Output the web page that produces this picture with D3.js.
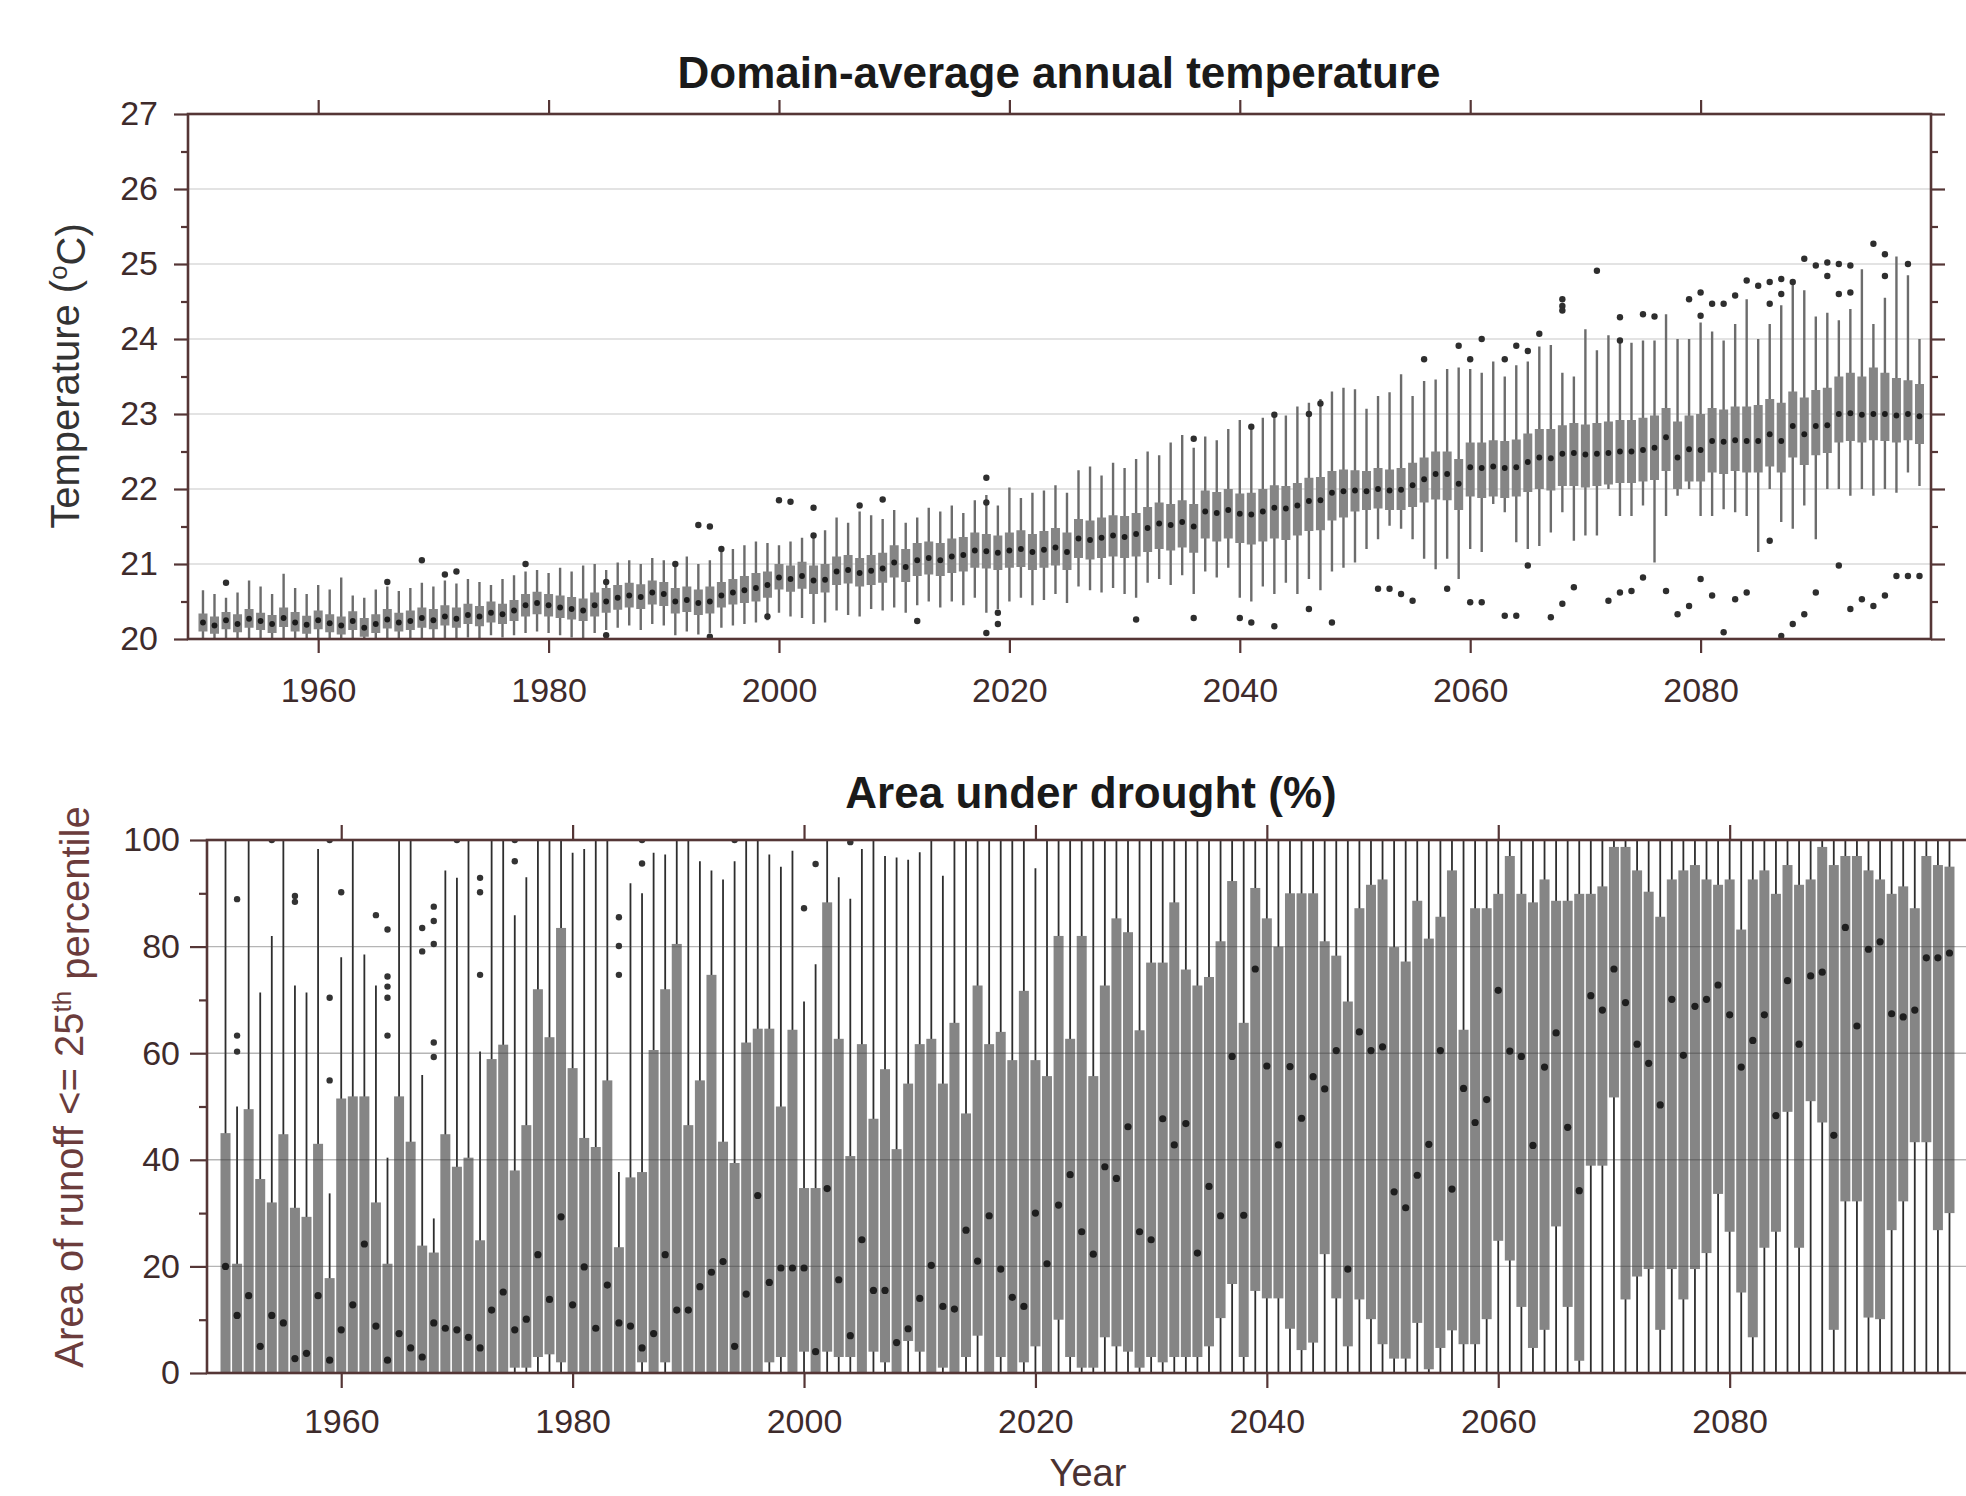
<!DOCTYPE html>
<html>
<head>
<meta charset="utf-8">
<script src="https://cdn.jsdelivr.net/npm/d3@7"></script>
<style>
  html, body { margin: 0; padding: 0; background: #ffffff; }
  svg { display: block; font-family: "Liberation Sans", Arial, Helvetica, sans-serif; }
</style>
</head>
<body>
<svg id="chart" width="1966" height="1496"></svg>
<script>
// ---------- categories and tick labels ----------
const years = d3.range(1950, 2100);               // one box per simulated year
const yearTicks = [1960, 1980, 2000, 2020, 2040, 2060, 2080];
const tempTicks = [20, 21, 22, 23, 24, 25, 26, 27];
const tempMinorTicks = [20.5, 21.5, 22.5, 23.5, 24.5, 25.5, 26.5];
const droughtTicks = [0, 20, 40, 60, 80, 100];
const droughtMinorTicks = [10, 30, 50, 70, 90];

// ---------- domain-average annual temperature (°C), ensemble spread per year ----------
const tempLow = [
  19.85,19.90,19.95,19.90,19.95,19.88,19.90,19.98,19.92,19.90,
  19.95,19.90,19.88,19.95,19.85,19.90,19.96,19.92,19.94,19.98,
  19.95,20.00,19.98,20.02,19.98,20.05,20.02,20.05,20.08,20.10,
  20.08,20.05,20.02,20.00,20.08,20.12,20.15,20.18,20.12,20.20,
  20.18,20.05,20.10,20.06,20.08,20.15,20.18,20.20,20.22,20.25,
  20.35,20.30,20.28,20.20,20.22,20.38,20.32,20.30,20.40,20.38,
  20.42,20.35,20.45,20.50,20.42,20.50,20.45,20.55,20.35,20.40,
  20.50,20.55,20.45,20.52,20.60,20.48,20.70,20.65,20.62,20.68,
  20.60,20.55,20.75,20.80,20.72,20.85,20.60,20.90,20.82,20.95,
  20.55,20.50,20.70,20.60,20.75,20.60,20.80,20.65,20.90,20.95,
  21.02,21.20,21.33,21.51,21.47,21.33,21.07,20.93,21.07,20.80,
  21.20,21.16,21.80,21.69,21.29,21.20,21.24,21.42,21.69,21.31,
  21.38,21.38,22.00,21.64,21.64,21.78,21.02,21.64,21.91,22.00,
  21.64,21.64,21.73,21.69,21.64,21.16,22.00,21.56,21.47,21.78,
  21.33,22.00,22.00,21.91,22.00,21.91,22.00,21.95,22.22,22.04
];
const tempQ1 = [
  20.10,20.07,20.13,20.09,20.15,20.12,20.08,20.16,20.10,20.07,
  20.13,20.09,20.06,20.12,20.03,20.08,20.14,20.10,20.12,20.15,
  20.13,20.18,20.15,20.20,20.17,20.22,20.20,20.24,20.30,20.33,
  20.30,20.28,20.26,20.24,20.30,20.35,20.39,20.42,20.40,20.46,
  20.44,20.34,20.36,20.32,20.34,20.42,20.46,20.48,20.50,20.55,
  20.66,20.63,20.67,20.60,20.62,20.72,20.74,20.70,20.72,20.75,
  20.82,20.76,20.84,20.86,20.84,20.88,20.90,20.95,20.94,20.92,
  20.95,20.96,20.92,20.95,20.98,20.92,21.08,21.06,21.08,21.10,
  21.08,21.10,21.16,21.20,21.18,21.22,21.15,21.34,21.30,21.34,
  21.28,21.26,21.30,21.34,21.32,21.38,21.44,21.45,21.58,21.62,
  21.70,21.72,21.74,21.72,21.72,21.76,21.82,21.86,21.85,21.72,
  21.90,21.88,21.90,21.88,21.90,21.96,22.00,21.98,22.04,22.04,
  22.02,22.04,22.06,22.08,22.08,22.10,22.12,22.24,22.00,22.10,
  22.10,22.22,22.20,22.24,22.22,22.22,22.30,22.22,22.42,22.32,
  22.45,22.48,22.62,22.64,22.62,22.65,22.64,22.62,22.65,22.60
];
const tempMedian = [
  20.22,20.18,20.25,20.20,20.27,20.24,20.20,20.28,20.22,20.19,
  20.25,20.21,20.18,20.24,20.15,20.20,20.26,20.22,20.24,20.28,
  20.25,20.30,20.27,20.32,20.30,20.35,20.33,20.38,20.45,20.48,
  20.45,20.42,20.40,20.38,20.45,20.50,20.55,20.58,20.56,20.62,
  20.60,20.50,20.52,20.48,20.50,20.58,20.62,20.65,20.68,20.72,
  20.82,20.80,20.84,20.78,20.79,20.90,20.92,20.88,20.91,20.94,
  21.02,20.96,21.05,21.08,21.05,21.10,21.12,21.18,21.17,21.15,
  21.18,21.20,21.16,21.19,21.22,21.16,21.34,21.32,21.35,21.38,
  21.36,21.40,21.48,21.54,21.52,21.56,21.50,21.70,21.68,21.72,
  21.67,21.66,21.70,21.75,21.74,21.78,21.84,21.85,21.95,21.97,
  21.98,21.97,22.00,21.98,21.99,22.05,22.13,22.20,22.20,22.07,
  22.29,22.28,22.30,22.28,22.29,22.36,22.42,22.41,22.47,22.48,
  22.46,22.47,22.48,22.50,22.50,22.52,22.55,22.69,22.42,22.53,
  22.52,22.64,22.63,22.65,22.64,22.64,22.73,22.64,22.84,22.73,
  22.84,22.85,23.00,23.01,22.99,23.00,23.00,22.98,23.00,22.97
];
const tempQ3 = [
  20.34,20.30,20.36,20.33,20.40,20.35,20.32,20.42,20.36,20.31,
  20.38,20.33,20.30,20.37,20.28,20.33,20.40,20.35,20.38,20.42,
  20.40,20.45,20.42,20.47,20.44,20.50,20.47,20.52,20.60,20.63,
  20.60,20.58,20.56,20.54,20.62,20.68,20.72,20.75,20.73,20.78,
  20.76,20.68,20.70,20.66,20.70,20.76,20.80,20.84,20.88,20.90,
  21.00,20.98,21.03,20.98,21.00,21.10,21.12,21.08,21.12,21.15,
  21.25,21.20,21.28,21.30,21.28,21.34,21.36,21.42,21.40,21.38,
  21.42,21.45,21.40,21.44,21.48,21.42,21.60,21.58,21.62,21.65,
  21.64,21.68,21.76,21.82,21.80,21.85,21.80,21.98,21.96,22.00,
  21.94,21.95,22.00,22.05,22.04,22.08,22.15,22.16,22.24,22.26,
  22.25,22.24,22.28,22.26,22.28,22.35,22.42,22.50,22.50,22.40,
  22.62,22.62,22.65,22.64,22.66,22.74,22.80,22.80,22.85,22.88,
  22.86,22.88,22.90,22.92,22.92,22.95,22.98,23.08,22.90,22.98,
  23.00,23.08,23.06,23.10,23.10,23.12,23.20,23.15,23.30,23.22,
  23.32,23.35,23.50,23.55,23.50,23.62,23.55,23.48,23.45,23.40
];
const tempHigh = [
  20.65,20.60,20.55,20.62,20.78,20.70,20.60,20.87,20.68,20.60,
  20.72,20.66,20.82,20.58,20.55,20.66,20.70,20.64,20.68,20.75,
  20.70,20.78,20.74,20.80,20.76,20.72,20.80,20.85,20.90,20.92,
  20.88,20.95,20.90,20.98,21.00,20.92,21.02,21.05,21.00,21.08,
  21.05,20.98,21.10,21.00,21.05,21.18,21.20,21.25,21.30,21.28,
  21.25,21.30,21.35,21.40,21.45,21.62,21.55,21.70,21.65,21.60,
  21.72,21.55,21.62,21.75,21.70,21.78,21.68,21.85,21.92,21.78,
  22.02,21.88,21.95,21.98,22.05,21.95,22.25,22.30,22.18,22.35,
  22.28,22.40,22.50,22.45,22.62,22.72,22.55,22.70,22.65,22.80,
  22.92,22.85,22.95,23.00,22.98,23.10,23.15,23.20,23.30,23.35,
  23.33,23.07,23.24,23.29,23.53,23.24,23.44,23.46,23.60,23.62,
  23.60,23.55,23.70,23.50,23.65,23.70,23.90,23.92,23.55,23.50,
  24.13,23.85,24.05,24.00,23.95,23.98,23.98,24.33,24.00,24.00,
  24.22,24.10,23.98,24.20,24.53,24.00,24.20,24.45,24.73,24.65,
  24.30,24.35,24.25,24.40,24.93,24.20,24.55,25.10,24.85,24.00
];
// individual ensemble members beyond the whiskers: [year, °C]
const tempOutliers = [
  [1952,20.75],[1966,20.76],[1969,21.05],[1971,20.86],[1972,20.90],[1978,21.00],
  [1985,20.76],[1985,20.05],[1991,21.00],[1993,21.52],[1994,21.50],[1994,20.03],
  [1995,21.20],[1999,20.30],[2000,21.85],[2001,21.83],[2003,21.75],[2003,21.38],
  [2007,21.78],[2009,21.86],[2012,20.24],[2018,22.15],[2018,21.82],[2018,20.08],
  [2019,20.35],[2019,20.20],[2031,20.26],[2036,22.67],[2036,20.28],[2040,20.28],
  [2041,20.22],[2041,22.83],[2043,22.99],[2043,20.17],[2046,23.00],[2047,23.14],
  [2046,20.40],[2048,20.22],
  [2056,23.73],[2059,23.91],[2060,23.73],[2061,24.00],[2063,23.73],[2064,23.91],
  [2065,23.84],[2066,24.07],[2068,24.44],[2068,24.53],[2068,24.38],[2071,24.91],
  [2073,24.29],[2073,23.98],[2075,24.33],[2076,24.30],[2079,24.53],[2080,24.62],
  [2080,24.31],[2081,24.47],[2082,24.47],[2083,24.58],[2084,24.78],[2085,24.71],
  [2086,24.76],[2087,24.80],[2088,24.76],[2086,24.47],[2087,24.60],[2089,25.07],
  [2090,24.98],[2091,25.02],[2092,25.00],[2093,24.98],[2091,24.84],[2092,24.60],
  [2093,24.62],[2095,25.27],[2096,25.13],[2096,24.84],[2098,25.00],
  [2052,20.67],[2053,20.67],[2054,20.60],[2055,20.51],[2058,20.67],[2060,20.49],
  [2061,20.49],[2063,20.31],[2064,20.31],[2065,20.98],[2067,20.29],[2068,20.47],
  [2069,20.69],[2072,20.51],[2073,20.62],[2074,20.64],[2075,20.82],[2077,20.64],
  [2078,20.33],[2079,20.44],[2080,20.80],[2081,20.58],[2082,20.09],[2083,20.53],
  [2084,20.62],[2086,21.31],[2087,20.04],[2088,20.20],[2089,20.33],[2090,20.62],
  [2092,20.98],[2093,20.40],[2094,20.53],[2095,20.44],[2096,20.58],[2097,20.84],
  [2098,20.84],[2099,20.84]
];

// ---------- area under drought (% of area with runoff <= 25th percentile) ----------
const droughtLow = [
  0,0,0,0,0,0,0,0,0,0, 0,0,0,0,0,0,0,0,0,0, 0,0,0,0,0,0,0,0,0,0,
  0,0,0,0,0,0,0,0,0,0, 0,0,0,0,0,0,0,0,0,0, 0,0,0,0,0,0,0,0,0,0,
  0,0,0,0,0,0,0,0,0,0, 0,0,0,0,0,0,0,0,0,0, 0,0,0,0,0,0,0,0,0,0,
  0,0,0,0,0,0,0,0,0,0, 0,0,0,0,0,0,0,0,0,0, 0,0,0,0,0,0,0,0,0,0,
  0,0,0,0,0,0,0,0,0,0, 0,0,0,0,0,0,0,0,0,0, 0,0,0,0,0,0,0,0,0,0
];
const droughtQ1 = [
  0,0,0,0,0,0,0,0,0,0,
  0,0,0,0,0,0,0,0,0,0,
  0,0,0,0,0,1,1,3,3.5,2,
  0,0,0,0,0,0,2,0,2,0,
  0,0,0,0,0,0,0,2,3,0,
  4,0,4,3,3,0,4,2,0,6,
  4,0,1,0,3,7,0,3,0,2,
  5,0,10,3,1,1,6.7,5,4,1,
  3,2,3,3,3,5,10.3,16.7,3,15.4,
  14,14,8.3,4.3,5.7,22.3,14,5,13.8,10.1,
  5.4,2.7,2.7,9.4,0.7,4.7,8,5.4,5.4,10.1,
  24.8,21.1,12.4,4.7,8.1,27.5,12.4,2.3,38.9,38.9,
  51.7,13.8,18.1,19.5,8.1,19.5,13.8,19.5,22.5,33.6,
  26.5,15.1,6.7,23.5,26.5,49,23.5,51,47,8.1,
  32.2,32.2,10.4,10.1,26.8,32.2,43.3,43.3,26.8,30
];
const droughtMedian = [
  20,10.8,14.5,5,10.8,9.4,2.7,3.7,14.5,2.4,
  8.1,12.8,24.2,8.8,2.4,7.4,4.7,3,9.4,8.4,
  8.1,6.7,4.7,11.8,15.2,8.1,10.1,22.2,13.8,29.3,
  12.8,19.9,8.4,16.5,9.4,8.8,4.7,7.4,22.2,11.8,
  11.8,16.2,18.9,20.9,5,14.8,33.3,17,19.7,19.7,
  19.7,4,34.6,17.5,7,25,15.5,15.5,5.7,8.3,
  14,20.2,12.5,12,26.8,21,29.5,19.5,14.2,12.5,
  30,20.5,31.5,37.2,26.5,22.3,38.7,36.5,46.2,26.5,
  25,47.7,42.8,46.8,22.5,35,29.5,59.4,29.6,75.8,
  57.6,42.8,57.5,47.8,55.6,53.3,60.5,19.5,64,60.5,
  61.2,34,31,37.1,42.9,60.5,34.5,53.4,47,51.3,
  71.8,60.4,59.4,42.7,57.4,63.8,46.1,34.2,70.8,68.1,
  75.8,69.5,61.7,58.1,50.3,70.1,59.6,68.8,70.1,72.8,
  67.2,57.4,62.4,67.2,48.3,73.6,61.7,74.5,75.2,44.6,
  83.6,65.1,79.5,80.9,67.4,66.8,68.1,77.9,77.9,78.8
];
const droughtQ3 = [
  45,20.5,49.5,36.4,32,44.8,31,29.3,43,17.8,
  51.5,51.9,51.9,32,20.5,51.9,43.4,23.9,22.6,44.8,
  38.7,40.4,24.9,58.9,61.6,38,46.5,72,63,83.5,
  57.2,44.1,42.4,54.9,23.6,36.7,37.7,60.6,72,80.5,
  46.5,54.9,74.7,43.4,39.4,62,64.6,64.6,50,64.4,
  34.7,34.7,88.3,62.7,40.7,61.7,47.7,57,42,54.3,
  61.7,62.7,54.3,65.7,48.7,72.7,61.7,64,58.7,71.7,
  58.7,55.7,82,62.7,82,55.7,72.7,85.3,82.7,64.3,
  77,77,88.3,75.7,72.7,74.3,81,92.3,65.7,91,
  85.3,80,90,90,90,81,78.3,69.7,87.2,91.6,
  92.6,79.9,77.2,88.6,81.5,85.6,94.3,64.4,87.2,87.2,
  89.9,97,89.9,88.3,92.6,88.6,88.6,89.9,89.9,91.3,
  98.7,98.7,94.3,90.3,85.6,92.6,94.3,95.3,92.6,91.6,
  92.6,83.2,92.6,94.3,89.9,95.3,91.6,92.6,98.7,95.3,
  97,97,94.3,92.6,89.9,91.3,87.2,97,95.3,95
];
const droughtHigh = [
  100,50,100,71.4,82,100,72.7,71.4,98.3,33.7,
  78,100,78.5,72.7,40.4,100,100,55.9,29,94.3,
  92.9,100,60.3,100,100,85.9,93,100,100,100,
  97.6,98.3,100,100,37.7,91.9,90,97.6,97.3,100,
  100,96,94.3,92.6,96,100,100,97.3,95,98,
  69.7,76.7,100,93,89,98.3,100,97,96.7,96.3,
  97.7,100,93.3,100,100,100,100,100,100,100,
  94.7,100,100,100,100,100,100,100,100,100,
  100,100,100,100,100,100,100,100,100,100,
  100,100,100,100,100,100,100,100,100,100,
  100,100,100,100,100,100,100,100,100,100,
  100,100,100,100,100,100,100,100,100,100,
  100,100,100,100,100,100,100,100,100,100,
  100,100,100,100,100,100,100,100,100,100,
  100,100,100,100,100,100,100,100,100,100
];
const droughtOutliers = [
  [1951,88.9],[1951,63.3],[1951,60.3],[1954,100],[1956,89.5],[1956,88.4],
  [1959,100],[1959,70.4],[1959,54.9],[1960,90.2],[1963,85.9],[1964,83.2],
  [1964,74.4],[1964,72.5],[1964,70.4],[1964,63.3],[1967,83.5],[1967,79.1],
  [1968,87.5],[1968,84.8],[1968,80.5],[1968,62],[1968,59.3],[1970,100],
  [1972,92.9],[1972,90.2],[1972,74.7],[1975,100],[1975,96],[1984,85.5],
  [1984,80.1],[1984,74.7],[1986,95.6],[1986,100],[1994,100],[2000,87.2],
  [2001,95.5],[2004,99.6]
];

// ---------- build the per-year records ----------
const tempData = years.map((yr, i) => ({
  year: yr, lo: tempLow[i], q1: tempQ1[i], med: tempMedian[i], q3: tempQ3[i], hi: tempHigh[i]
}));
const droughtData = years.map((yr, i) => ({
  year: yr, lo: droughtLow[i], q1: droughtQ1[i], med: droughtMedian[i], q3: droughtQ3[i], hi: droughtHigh[i]
}));

// ---------- shared styling ----------
const AXIS_COLOR = "#553636";
const TICK_TEXT = "#3e2b2b";
const BOX_FILL = "#858585";

const svg = d3.select("#chart");
const defs = svg.append("defs");

function styleAxis(g, fontSize) {
  g.select(".domain").remove();
  g.selectAll(".tick line").attr("stroke", AXIS_COLOR).attr("stroke-width", 2.2);
  g.selectAll(".tick text")
    .attr("fill", TICK_TEXT)
    .style("font-size", fontSize + "px")
    .style("font-family", "'Liberation Sans', Arial, sans-serif");
}

// =====================================================================
// Panel 1: Domain-average annual temperature
// =====================================================================
const xT = d3.scaleLinear().domain([1948.7, 2100]).range([188, 1931]);
const yT = d3.scaleLinear().domain([20, 27]).range([639, 114]);

defs.append("clipPath").attr("id", "clipTemp")
  .append("rect").attr("x", 188).attr("y", 114).attr("width", 1931 - 188).attr("height", 639 - 114);

const gT = svg.append("g");

// horizontal grid
gT.append("g").selectAll("line").data(tempTicks.filter(d => d > 20 && d < 27)).join("line")
  .attr("x1", 188).attr("x2", 1931)
  .attr("y1", d => yT(d)).attr("y2", d => yT(d))
  .attr("stroke", "#dadada").attr("stroke-width", 1.6);

const tPlot = gT.append("g").attr("clip-path", "url(#clipTemp)");

tPlot.append("g").selectAll("line").data(tempData).join("line")
  .attr("x1", d => xT(d.year)).attr("x2", d => xT(d.year))
  .attr("y1", d => yT(d.lo)).attr("y2", d => yT(d.hi))
  .attr("stroke", "#6c6c6c").attr("stroke-width", 2.4);

const tBoxW = 9;
tPlot.append("g").selectAll("rect").data(tempData).join("rect")
  .attr("x", d => xT(d.year) - tBoxW / 2).attr("width", tBoxW)
  .attr("y", d => yT(d.q3)).attr("height", d => yT(d.q1) - yT(d.q3))
  .attr("fill", BOX_FILL);

tPlot.append("g").selectAll("circle").data(tempData).join("circle")
  .attr("cx", d => xT(d.year)).attr("cy", d => yT(d.med)).attr("r", 2.9)
  .attr("fill", "#1a1a1a");

tPlot.append("g").selectAll("circle").data(tempOutliers).join("circle")
  .attr("cx", d => xT(d[0])).attr("cy", d => yT(d[1])).attr("r", 3.2)
  .attr("fill", "#2e2e2e");

// axes and frame
const tBottom = gT.append("g").attr("transform", "translate(0,639)")
  .call(d3.axisBottom(xT).tickValues(yearTicks).tickSize(14).tickPadding(25).tickFormat(d3.format("d")));
styleAxis(tBottom, 34);
const tTop = gT.append("g").attr("transform", "translate(0,114)")
  .call(d3.axisTop(xT).tickValues(yearTicks).tickSize(14).tickFormat(""));
styleAxis(tTop, 34);
const tLeft = gT.append("g").attr("transform", "translate(188,0)")
  .call(d3.axisLeft(yT).tickValues(tempTicks).tickSize(14).tickPadding(16).tickFormat(d3.format("d")));
styleAxis(tLeft, 34);
const tLeftMinor = gT.append("g").attr("transform", "translate(188,0)")
  .call(d3.axisLeft(yT).tickValues(tempMinorTicks).tickSize(7).tickFormat(""));
styleAxis(tLeftMinor, 34);
const tRight = gT.append("g").attr("transform", "translate(1931,0)")
  .call(d3.axisRight(yT).tickValues(tempTicks).tickSize(14).tickFormat(""));
styleAxis(tRight, 34);
const tRightMinor = gT.append("g").attr("transform", "translate(1931,0)")
  .call(d3.axisRight(yT).tickValues(tempMinorTicks).tickSize(7).tickFormat(""));
styleAxis(tRightMinor, 34);

gT.append("rect").attr("x", 188).attr("y", 114).attr("width", 1931 - 188).attr("height", 639 - 114)
  .attr("fill", "none").attr("stroke", AXIS_COLOR).attr("stroke-width", 2.6);

gT.append("text").attr("x", 1059).attr("y", 88).attr("text-anchor", "middle")
  .style("font-size", "44px").style("font-weight", "bold").attr("fill", "#1a1a1a")
  .text("Domain-average annual temperature");

const tLab = gT.append("text")
  .attr("transform", "translate(65,376) rotate(-90)")
  .attr("text-anchor", "middle").attr("dy", "0.35em")
  .style("font-size", "40px").attr("fill", "#333333");
tLab.append("tspan").text("Temperature (");
tLab.append("tspan").attr("dy", "-0.45em").style("font-size", "26px").text("o");
tLab.append("tspan").attr("dy", "0.45em").text("C)");

// =====================================================================
// Panel 2: Area under drought (%)
// =====================================================================
const xD = d3.scaleLinear().domain([1948.4, 2100.6]).range([207, 1968]);
const yD = d3.scaleLinear().domain([0, 100]).range([1373, 840]);

defs.append("clipPath").attr("id", "clipDrought")
  .append("rect").attr("x", 207).attr("y", 840).attr("width", 1968 - 207).attr("height", 1373 - 840);

const gD = svg.append("g");
const dPlot = gD.append("g").attr("clip-path", "url(#clipDrought)");

dPlot.append("g").selectAll("line").data(droughtData).join("line")
  .attr("x1", d => xD(d.year)).attr("x2", d => xD(d.year))
  .attr("y1", d => yD(d.lo)).attr("y2", d => yD(d.hi))
  .attr("stroke", "#2e2e2e").attr("stroke-width", 1.8);

const dBoxW = 10;
dPlot.append("g").selectAll("rect").data(droughtData).join("rect")
  .attr("x", d => xD(d.year) - dBoxW / 2).attr("width", dBoxW)
  .attr("y", d => yD(d.q3)).attr("height", d => yD(d.q1) - yD(d.q3))
  .attr("fill", BOX_FILL);

// grid drawn over the boxes, as in the source figure
dPlot.append("g").selectAll("line").data(droughtTicks.filter(d => d > 0 && d < 100)).join("line")
  .attr("x1", 207).attr("x2", 1968)
  .attr("y1", d => yD(d)).attr("y2", d => yD(d))
  .attr("stroke", "rgba(60,60,60,0.38)").attr("stroke-width", 1.4);

dPlot.append("g").selectAll("circle").data(droughtData).join("circle")
  .attr("cx", d => xD(d.year)).attr("cy", d => yD(d.med)).attr("r", 3.6)
  .attr("fill", "#1e1e1e");

dPlot.append("g").selectAll("circle").data(droughtOutliers).join("circle")
  .attr("cx", d => xD(d[0])).attr("cy", d => yD(d[1])).attr("r", 3.2)
  .attr("fill", "#333333");

const dBottom = gD.append("g").attr("transform", "translate(0,1373)")
  .call(d3.axisBottom(xD).tickValues(yearTicks).tickSize(15).tickPadding(21).tickFormat(d3.format("d")));
styleAxis(dBottom, 34);
const dTop = gD.append("g").attr("transform", "translate(0,840)")
  .call(d3.axisTop(xD).tickValues(yearTicks).tickSize(15).tickFormat(""));
styleAxis(dTop, 34);
const dLeft = gD.append("g").attr("transform", "translate(207,0)")
  .call(d3.axisLeft(yD).tickValues(droughtTicks).tickSize(17).tickPadding(10).tickFormat(d3.format("d")));
styleAxis(dLeft, 34);
const dLeftMinor = gD.append("g").attr("transform", "translate(207,0)")
  .call(d3.axisLeft(yD).tickValues(droughtMinorTicks).tickSize(8).tickFormat(""));
styleAxis(dLeftMinor, 34);

gD.append("rect").attr("x", 207).attr("y", 840).attr("width", 1968 - 207).attr("height", 1373 - 840)
  .attr("fill", "none").attr("stroke", AXIS_COLOR).attr("stroke-width", 2.6);

gD.append("text").attr("x", 1091).attr("y", 808).attr("text-anchor", "middle")
  .style("font-size", "44px").style("font-weight", "bold").attr("fill", "#1a1a1a")
  .text("Area under drought (%)");

const dLab = gD.append("text")
  .attr("transform", "translate(69,1087) rotate(-90)")
  .attr("text-anchor", "middle").attr("dy", "0.35em")
  .style("font-size", "40px").attr("fill", "#6b3c3c");
dLab.append("tspan").text("Area of runoff <= 25");
dLab.append("tspan").attr("dy", "-0.45em").style("font-size", "26px").text("th");
dLab.append("tspan").attr("dy", "0.45em").text(" percentile");

gD.append("text").attr("x", 1088).attr("y", 1486).attr("text-anchor", "middle")
  .style("font-size", "38px").attr("fill", "#4a3232")
  .text("Year");
</script>
</body>
</html>
